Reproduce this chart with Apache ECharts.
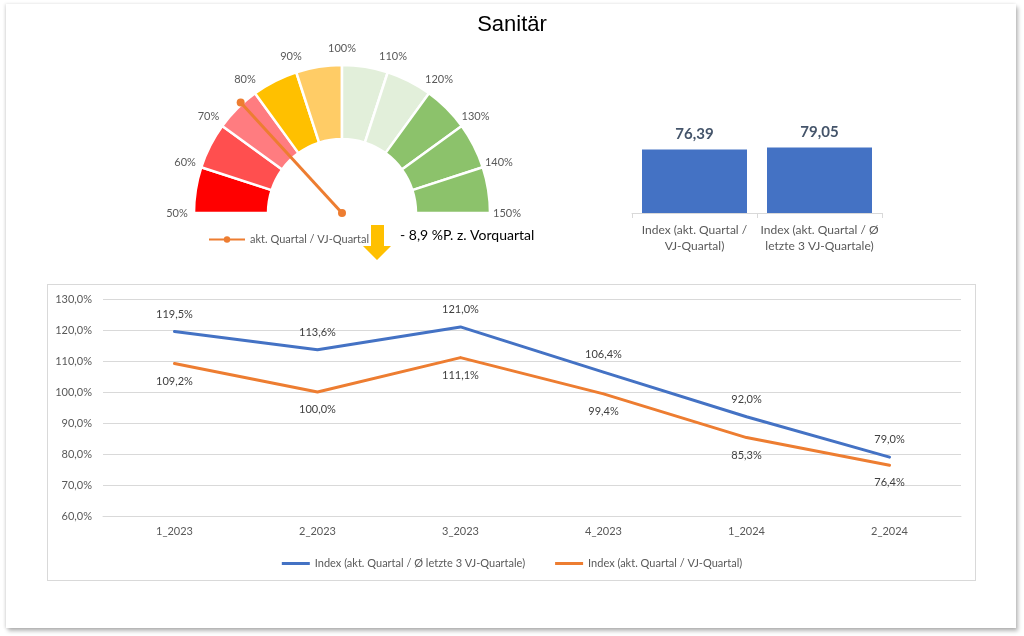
<!DOCTYPE html>
<html><head><meta charset="utf-8">
<script src="https://cdn.jsdelivr.net/npm/echarts@6/dist/echarts.min.js"></script>
<style>
html,body{margin:0;padding:0;background:#fff;width:1024px;height:636px;overflow:hidden;}
#card{position:absolute;left:6px;top:4px;width:1010px;height:624px;background:#fff;box-shadow:2px 3px 4px rgba(0,0,0,0.28),-1px 0 3px rgba(0,0,0,0.12);}
#box{position:absolute;left:47px;top:284px;width:927px;height:295px;border:1px solid #d9d9d9;}
#chart{position:absolute;left:0;top:0;width:1024px;height:636px;}
</style></head><body>
<div id="card"></div><div id="box"></div><div id="chart"></div>
<script>
// ---- data ----
const chartTitle = 'Sanitär';
const gaugeMin = 50, gaugeMax = 150, gaugeStep = 10;
const gaugeTicks = [50, 60, 70, 80, 90, 100, 110, 120, 130, 140, 150];
const gaugeColors = ['#FF0000','#FF4F4F','#FF7C80','#FFC000','#FFCC66','#E2EFDA','#E2EFDA','#8CC26B','#8CC26B','#8CC26B'];
const needleName = 'akt. Quartal / VJ-Quartal';
const needleValue = 76.39;
const barCategories = ['Index (akt. Quartal /\nVJ-Quartal)', 'Index (akt. Quartal / Ø\nletzte 3 VJ-Quartale)'];
const barValues = [76.39, 79.05];
const quarters = ['1_2023','2_2023','3_2023','4_2023','1_2024','2_2024'];
const avgName = 'Index (akt. Quartal / Ø letzte 3 VJ-Quartale)';
const avgValues = [119.5, 113.6, 121.0, 106.4, 92.0, 79.0];
const vjName = 'Index (akt. Quartal / VJ-Quartal)';
const vjValues = [109.2, 100.0, 111.1, 99.4, 85.3, 76.4];

const FONT = 'Lato';
const GRAY = '#595959';
const fmt1 = v => v.toFixed(1).replace('.', ',') + '%';
const delta = vjValues[vjValues.length-1] - vjValues[vjValues.length-2];
const changeText = (delta < 0 ? '- ' : '+ ') + Math.abs(delta).toFixed(1).replace('.', ',') + ' %P. z. Vorquartal';

const cx = 342, cy = 213;

const pieData = gaugeColors.map(c => ({ value: gaugeStep, itemStyle: { color: c } }));
pieData.push({ value: gaugeMax - gaugeMin, itemStyle: { color: 'rgba(0,0,0,0)', borderWidth: 0 } });

const chart = echarts.init(document.getElementById('chart'), null, { renderer: 'canvas' });
chart.setOption({
  animation: false,
  textStyle: { fontFamily: FONT },
  title: { text: chartTitle, left: 'center', top: 9, textStyle: { fontFamily: 'Liberation Sans', fontWeight: 'normal', fontSize: 22, color: '#000' } },
  legend: [
    { data: [needleName], left: 203, top: 229, itemWidth: 36, itemHeight: 8, itemGap: 10,
      textStyle: { color: GRAY, fontSize: 11, fontFamily: FONT } },
    { data: [avgName, vjName], left: 'center', top: 553, itemWidth: 28, itemHeight: 3, itemGap: 30, icon: 'rect',
      textStyle: { color: GRAY, fontSize: 11, fontFamily: FONT } }
  ],
  polar: { center: [cx, cy], radius: 165 },
  angleAxis: { type: 'value', min: gaugeMin, max: gaugeMin + 2 * (gaugeMax - gaugeMin), startAngle: 180, clockwise: true, show: false },
  radiusAxis: { type: 'value', min: 0, max: 1.1, show: false },
  grid: [
    { left: 632, width: 250, top: 130, height: 83 },
    { left: 103, width: 858, top: 299, height: 217 }
  ],
  xAxis: [
    { gridIndex: 0, type: 'category', data: barCategories,
      axisLine: { lineStyle: { color: '#d9d9d9' } },
      axisTick: { show: true, length: 5, lineStyle: { color: '#d9d9d9' } },
      axisLabel: { color: GRAY, fontSize: 12, margin: 9, lineHeight: 16, interval: 0 } },
    { gridIndex: 1, type: 'category', data: quarters,
      axisLine: { lineStyle: { color: '#d9d9d9' } }, axisTick: { show: false },
      axisLabel: { color: GRAY, fontSize: 11, margin: 10 } }
  ],
  yAxis: [
    { gridIndex: 0, type: 'value', min: 0, max: 100, show: false },
    { gridIndex: 1, type: 'value', min: 60, max: 130, interval: 10,
      axisLine: { show: false }, axisTick: { show: false },
      splitLine: { lineStyle: { color: '#d9d9d9' } },
      axisLabel: { color: GRAY, fontSize: 11, margin: 11, formatter: v => fmt1(v) } }
  ],
  series: [
    { type: 'pie', center: [cx, cy], radius: [74, 148], startAngle: 180, clockwise: true, silent: true,
      label: { show: false }, labelLine: { show: false },
      itemStyle: { borderColor: '#fff', borderWidth: 2.5 }, data: pieData, z: 1 },
    { type: 'scatter', coordinateSystem: 'polar', polarIndex: 0, silent: true,
      data: gaugeTicks.map(t => [1.1, t]), symbol: 'circle', symbolSize: 2,
      itemStyle: { color: 'rgba(255,255,255,0)', opacity: 1 },
      label: { show: true, position: 'inside', color: GRAY, opacity: 1, fontSize: 11, fontFamily: FONT, formatter: p => p.value[1] + '%' },
      z: 2 },
    { type: 'line', name: needleName, coordinateSystem: 'polar', polarIndex: 0,
      data: [[0, needleValue], [1, needleValue]], symbol: 'circle', symbolSize: 8,
      itemStyle: { color: '#ED7D31' }, lineStyle: { color: '#ED7D31', width: 3 }, z: 5, silent: true },
    { type: 'bar', xAxisIndex: 0, yAxisIndex: 0, data: barValues, barWidth: 105,
      itemStyle: { color: '#4472C4' },
      label: { show: true, position: 'top', distance: 8, fontWeight: 'bold', fontSize: 15, color: '#44546A',
        formatter: p => p.value.toFixed(2).replace('.', ',') } },
    { type: 'line', name: avgName, xAxisIndex: 1, yAxisIndex: 1, data: avgValues,
      symbol: 'circle', symbolSize: 2, showSymbol: true,
      lineStyle: { color: '#4472C4', width: 3, cap: 'round', join: 'round' }, itemStyle: { color: '#4472C4' },
      label: { show: true, position: 'top', distance: 11, color: '#404040', fontSize: 11, formatter: p => fmt1(p.value) } },
    { type: 'line', name: vjName, xAxisIndex: 1, yAxisIndex: 1, data: vjValues,
      symbol: 'circle', symbolSize: 2, showSymbol: true,
      lineStyle: { color: '#ED7D31', width: 3, cap: 'round', join: 'round' }, itemStyle: { color: '#ED7D31' },
      label: { show: true, position: 'bottom', distance: 11, color: '#404040', fontSize: 11, formatter: p => fmt1(p.value) } }
  ],
  graphic: [
    { type: 'polygon', shape: { points: [[371,225],[384,225],[384,246],[391,246],[377,260],[363,246],[371,246]] },
      style: { fill: '#FFC000' }, silent: true },
    { type: 'text', left: 400, top: 228, style: { text: changeText, font: '14px ' + FONT, fill: '#000' }, silent: true }
  ]
});
</script></body></html>
